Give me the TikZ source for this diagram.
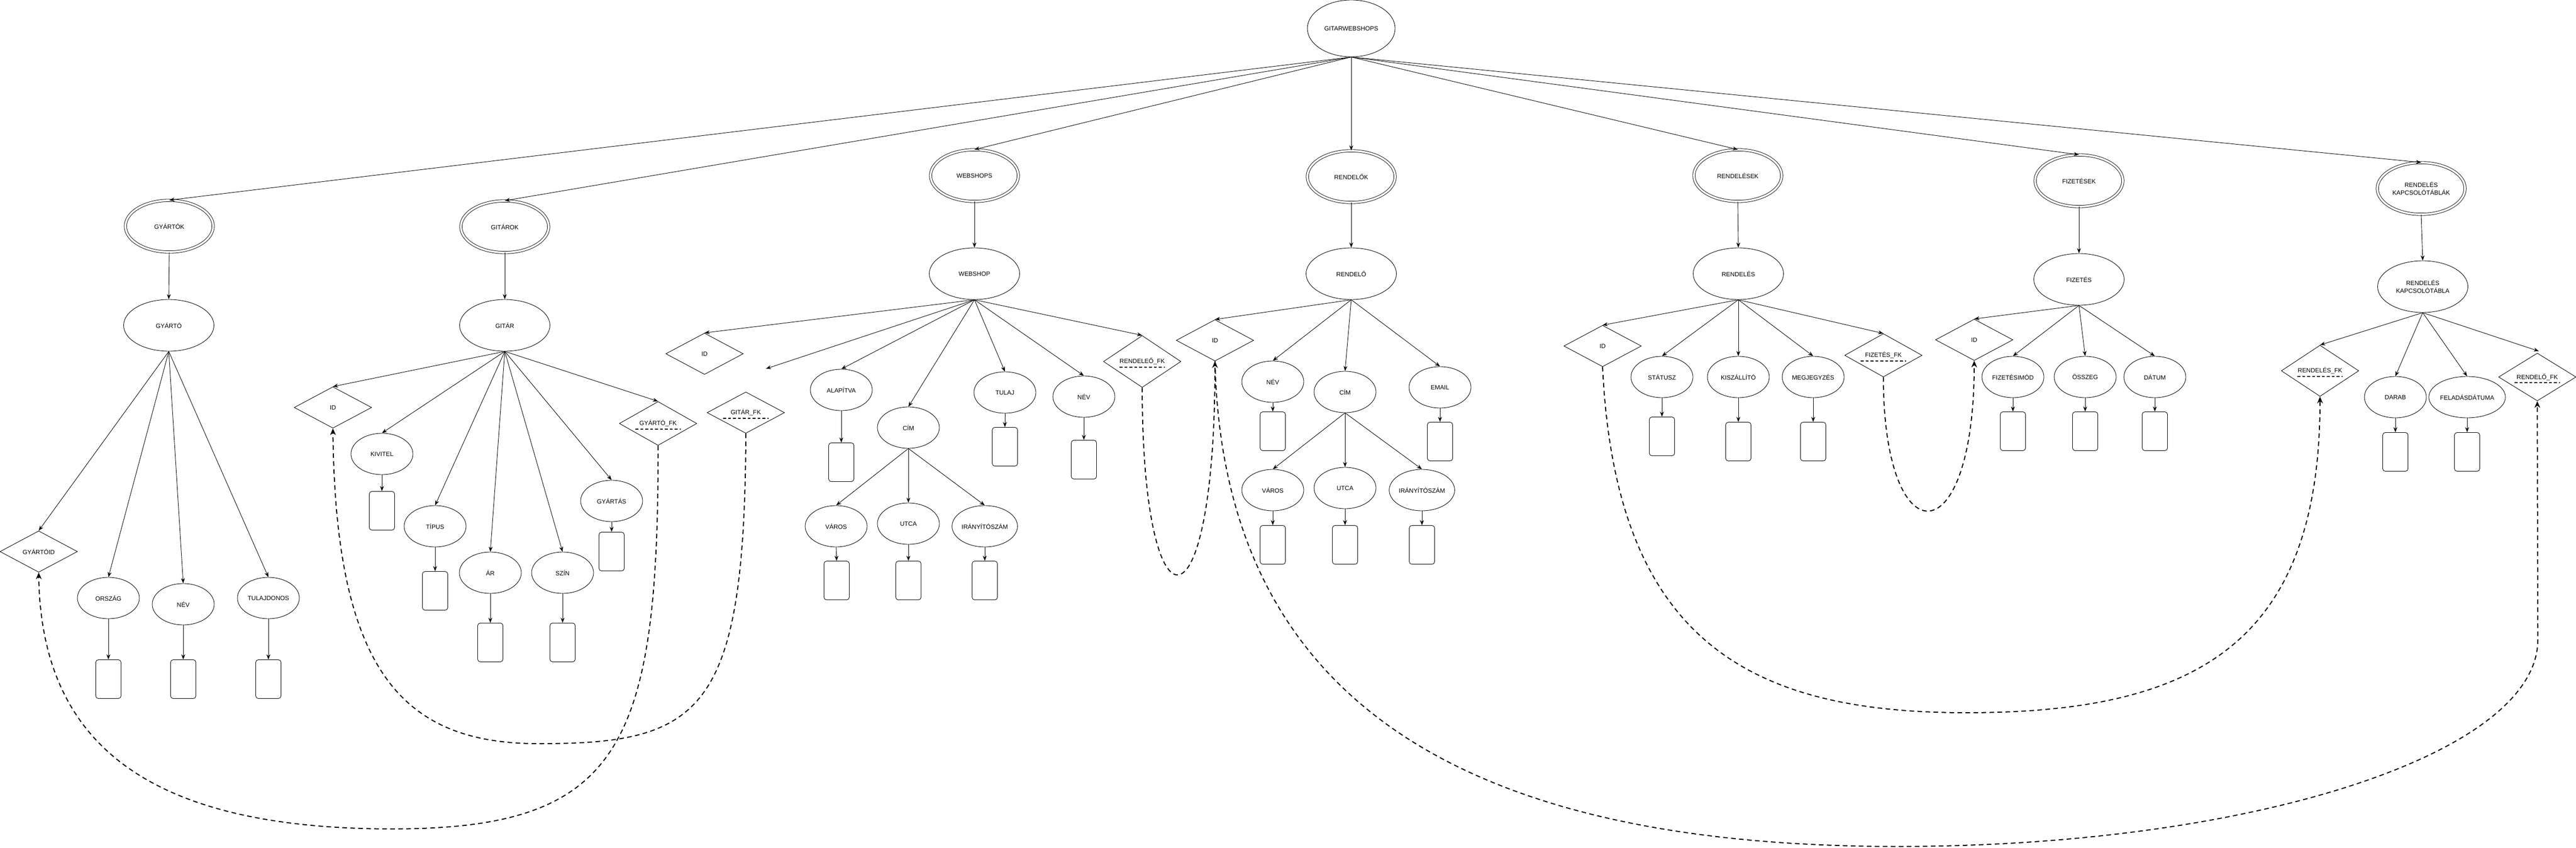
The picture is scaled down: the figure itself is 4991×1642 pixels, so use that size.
\documentclass[tikz,border=0pt]{standalone}
\usepackage{fontspec}
\setmainfont{Liberation Sans}
\usepackage{tikz}
\usetikzlibrary{shapes.geometric,arrows.meta}
\begin{document}
\begin{tikzpicture}[x=0.2mm,y=-0.2mm,line width=0.5pt]
\tikzstyle{every node}+=[inner sep=0pt,font=\fontsize{6.8}{8.2}\selectfont]
\tikzstyle{fo}=[draw,ellipse,minimum width=34mm,minimum height=22mm]
\tikzstyle{tabla}=[draw,ellipse,double,double distance=0.75mm,minimum width=34mm,minimum height=20mm,align=center]
\tikzstyle{egyed}=[draw,ellipse,minimum width=35mm,minimum height=20mm,align=center]
\tikzstyle{attr}=[draw,ellipse,minimum width=24mm,minimum height=16mm]
\tikzstyle{kulcs}=[draw,diamond,minimum width=30mm,minimum height=16mm]
\tikzstyle{idegen}=[kulcs,path picture={\draw[line width=0.4mm,dash pattern=on 1.1mm off 0.8mm] ([xshift=-8.8mm,yshift=-2.2mm]path picture bounding box.center) -- ([xshift=8.8mm,yshift=-2.2mm]path picture bounding box.center);}]
\tikzstyle{ertek}=[draw,rounded corners=1mm,minimum width=9.8mm,minimum height=15mm]
\tikzstyle{nyil}=[-{Stealth[length=2mm,width=1.5mm]}]
\tikzstyle{fkvonal}=[dash pattern=on 1.8mm off 1.3mm,line width=0.4mm,-{Stealth[length=2.6mm,width=2.2mm]}]
\useasboundingbox (0,0) rectangle (4991,1642);
\node[fo] (gws) at (2618,55) {GITARWEBSHOPS};
\node[tabla] (gyartok) at (328,438) {GYÁRTÓK};
\node[tabla] (gitarok) at (978,439) {GITÁROK};
\node[tabla] (webshops) at (1888,340) {WEBSHOPS};
\node[tabla] (rendelok) at (2618,342) {RENDELŐK};
\node[tabla] (rendelesek) at (3367,340) {RENDELÉSEK};
\node[tabla] (fizetesek) at (4028,350) {FIZETÉSEK};
\node[tabla] (kapcsok) at (4691,365) {RENDELÉS\\KAPCSOLÓTÁBLÁK};
\draw[nyil] (gws.south) -- (gyartok.north);
\draw[nyil] (gws.south) -- (gitarok.north);
\draw[nyil] (gws.south) -- (webshops.north);
\draw[nyil] (gws.south) -- (rendelok.north);
\draw[nyil] (gws.south) -- (rendelesek.north);
\draw[nyil] (gws.south) -- (fizetesek.north);
\draw[nyil] (gws.south) -- (kapcsok.north);
\node[egyed] (gyarto) at (327,630) {GYÁRTÓ};
\node[egyed] (gitar) at (978,630) {GITÁR};
\node[egyed] (webshop) at (1888,530) {WEBSHOP};
\node[egyed] (rendelo) at (2618,530) {RENDELŐ};
\node[egyed] (rendeles) at (3368,530) {RENDELÉS};
\node[egyed] (fizetes) at (4028,541) {FIZETÉS};
\node[egyed] (kapcs) at (4694,555) {RENDELÉS\\KAPCSOLÓTÁBLA};
\draw[nyil] (gyartok.south) -- (gyarto.north);
\draw[nyil] (gitarok.south) -- (gitar.north);
\draw[nyil] (webshops.south) -- (webshop.north);
\draw[nyil] (rendelok.south) -- (rendelo.north);
\draw[nyil] (rendelesek.south) -- (rendeles.north);
\draw[nyil] (fizetesek.south) -- (fizetes.north);
\draw[nyil] (kapcsok.south) -- (kapcs.north);
\node[kulcs] (gyid) at (75,1068) {GYÁRTÓID};
\node[attr] (gyorszag) at (210,1158) {ORSZÁG};
\node[ertek] (gyorszagv) at (210,1315) {};
\node[attr] (gynev) at (355,1170) {NÉV};
\node[ertek] (gynevv) at (355,1315) {};
\node[attr] (gytulaj) at (520,1158) {TULAJDONOS};
\node[ertek] (gytulajv) at (520,1315) {};
\draw[nyil] (gyarto.south) -- (gyid.north);
\draw[nyil] (gyarto.south) -- (gyorszag.north);
\draw[nyil] (gyarto.south) -- (gynev.north);
\draw[nyil] (gyarto.south) -- (gytulaj.north);
\draw[nyil] (gyorszag.south) -- (gyorszagv.north);
\draw[nyil] (gynev.south) -- (gynevv.north);
\draw[nyil] (gytulaj.south) -- (gytulajv.north);
\node[kulcs] (gid) at (645,789) {ID};
\node[attr] (gkivitel) at (740,879) {KIVITEL};
\node[ertek] (gkivitelv) at (740,989) {};
\node[attr] (gtipus) at (843,1019) {TÍPUS};
\node[ertek] (gtipusv) at (843,1144) {};
\node[attr] (gar) at (950,1109) {ÁR};
\node[ertek] (garv) at (950,1244) {};
\node[attr] (gszin) at (1090,1109) {SZÍN};
\node[ertek] (gszinv) at (1090,1244) {};
\node[attr] (ggyartas) at (1185,970) {GYÁRTÁS};
\node[ertek] (ggyartasv) at (1185,1068) {};
\node[idegen] (ggyfk) at (1275,820) {GYÁRTÓ\_FK};
\node[idegen] (gfk) at (1445,799) {GITÁR\_FK};
\draw[nyil] (gitar.south) -- (gid.north);
\draw[nyil] (gitar.south) -- (gkivitel.north);
\draw[nyil] (gitar.south) -- (gtipus.north);
\draw[nyil] (gitar.south) -- (gar.north);
\draw[nyil] (gitar.south) -- (gszin.north);
\draw[nyil] (gitar.south) -- (ggyartas.north);
\draw[nyil] (gitar.south) -- (ggyfk.north);
\draw[nyil] (gkivitel.south) -- (gkivitelv.north);
\draw[nyil] (gtipus.south) -- (gtipusv.north);
\draw[nyil] (gar.south) -- (garv.north);
\draw[nyil] (gszin.south) -- (gszinv.north);
\draw[nyil] (ggyartas.south) -- (ggyartasv.north);
\node[kulcs] (wid) at (1365,685) {ID};
\coordinate (wfree) at (1484,714);
\node[attr] (walap) at (1630,755) {ALAPÍTVA};
\node[ertek] (walapv) at (1630,895) {};
\node[attr] (wcim) at (1760,828) {CÍM};
\node[attr] (wvaros) at (1620,1019) {VÁROS};
\node[ertek] (wvarosv) at (1621,1124) {};
\node[attr] (wutca) at (1760,1014) {UTCA};
\node[ertek] (wutcav) at (1760,1124) {};
\node[attr] (wirsz) at (1908,1019) {IRÁNYÍTÓSZÁM};
\node[ertek] (wirszv) at (1908,1124) {};
\node[attr] (wtulaj) at (1947,760) {TULAJ};
\node[ertek] (wtulajv) at (1947,865) {};
\node[attr] (wnev) at (2100,768) {NÉV};
\node[ertek] (wnevv) at (2100,890) {};
\node[idegen] (wrfk) at (2213,700) {RENDELEŐ\_FK};
\draw[nyil] (webshop.south) -- (wid.north);
\draw[nyil] (webshop.south) -- (wfree);
\draw[nyil] (webshop.south) -- (walap.north);
\draw[nyil] (webshop.south) -- (wcim.north);
\draw[nyil] (webshop.south) -- (wtulaj.north);
\draw[nyil] (webshop.south) -- (wnev.north);
\draw[nyil] (webshop.south) -- (wrfk.north);
\draw[nyil] (walap.south) -- (walapv.north);
\draw[nyil] (wcim.south) -- (wvaros.north);
\draw[nyil] (wcim.south) -- (wutca.north);
\draw[nyil] (wcim.south) -- (wirsz.north);
\draw[nyil] (wvaros.south) -- (wvarosv.north);
\draw[nyil] (wutca.south) -- (wutcav.north);
\draw[nyil] (wirsz.south) -- (wirszv.north);
\draw[nyil] (wtulaj.south) -- (wtulajv.north);
\draw[nyil] (wnev.south) -- (wnevv.north);
\node[kulcs] (rid) at (2354,659) {ID};
\node[attr] (rnev) at (2466,739) {NÉV};
\node[ertek] (rnevv) at (2466,835) {};
\node[attr] (rcim) at (2606,759) {CÍM};
\node[attr] (rvaros) at (2466,949) {VÁROS};
\node[ertek] (rvarosv) at (2466,1055) {};
\node[attr] (rutca) at (2606,945) {UTCA};
\node[ertek] (rutcav) at (2606,1055) {};
\node[attr] (rirsz) at (2755,949) {IRÁNYÍTÓSZÁM};
\node[ertek] (rirszv) at (2755,1055) {};
\node[attr] (remail) at (2790,750) {EMAIL};
\node[ertek] (remailv) at (2790,855) {};
\draw[nyil] (rendelo.south) -- (rid.north);
\draw[nyil] (rendelo.south) -- (rnev.north);
\draw[nyil] (rendelo.south) -- (rcim.north);
\draw[nyil] (rendelo.south) -- (remail.north);
\draw[nyil] (rnev.south) -- (rnevv.north);
\draw[nyil] (rcim.south) -- (rvaros.north);
\draw[nyil] (rcim.south) -- (rutca.north);
\draw[nyil] (rcim.south) -- (rirsz.north);
\draw[nyil] (rvaros.south) -- (rvarosv.north);
\draw[nyil] (rutca.south) -- (rutcav.north);
\draw[nyil] (rirsz.south) -- (rirszv.north);
\draw[nyil] (remail.south) -- (remailv.north);
\node[kulcs] (nid) at (3105,670) {ID};
\node[attr] (nstatusz) at (3220,730) {STÁTUSZ};
\node[ertek] (nstatuszv) at (3220,845) {};
\node[attr] (nkiszall) at (3368,730) {KISZÁLLÍTÓ};
\node[ertek] (nkiszallv) at (3368,855) {};
\node[attr] (nmegj) at (3513,730) {MEGJEGYZÉS};
\node[ertek] (nmegjv) at (3513,855) {};
\node[idegen] (nffk) at (3649,688) {FIZETÉS\_FK};
\draw[nyil] (rendeles.south) -- (nid.north);
\draw[nyil] (rendeles.south) -- (nstatusz.north);
\draw[nyil] (rendeles.south) -- (nkiszall.north);
\draw[nyil] (rendeles.south) -- (nmegj.north);
\draw[nyil] (rendeles.south) -- (nffk.north);
\draw[nyil] (nstatusz.south) -- (nstatuszv.north);
\draw[nyil] (nkiszall.south) -- (nkiszallv.north);
\draw[nyil] (nmegj.south) -- (nmegjv.north);
\node[kulcs] (fid) at (3825,658) {ID};
\node[attr] (fmod) at (3900,730) {FIZETÉSIMÓD};
\node[ertek] (fmodv) at (3900,835) {};
\node[attr] (fosszeg) at (4040,730) {ÖSSZEG};
\node[ertek] (fosszegv) at (4040,835) {};
\node[attr] (fdatum) at (4175,730) {DÁTUM};
\node[ertek] (fdatumv) at (4175,835) {};
\draw[nyil] (fizetes.south) -- (fid.north);
\draw[nyil] (fizetes.south) -- (fmod.north);
\draw[nyil] (fizetes.south) -- (fosszeg.north);
\draw[nyil] (fizetes.south) -- (fdatum.north);
\draw[nyil] (fmod.south) -- (fmodv.north);
\draw[nyil] (fosszeg.south) -- (fosszegv.north);
\draw[nyil] (fdatum.south) -- (fdatumv.north);
\node[idegen] (krfk) at (4495,718) {RENDELÉS\_FK};
\node[attr] (kdarab) at (4641,769) {DARAB};
\node[ertek] (kdarabv) at (4641,875) {};
\node[attr] (kfelad) at (4780,769) {FELADÁSDÁTUMA};
\node[ertek] (kfeladv) at (4780,875) {};
\coordinate (kfree) at (4919,680);
\node[idegen] (krofk) at (4916,730) {RENDELŐ\_FK};
\draw[nyil] (kapcs.south) -- (krfk.north);
\draw[nyil] (kapcs.south) -- (kdarab.north);
\draw[nyil] (kapcs.south) -- (kfelad.north);
\draw[nyil] (kapcs.south) -- (kfree);
\draw[nyil] (kdarab.south) -- (kdarabv.north);
\draw[nyil] (kfelad.south) -- (kfeladv.north);
\draw[fkvonal] (ggyfk.south) .. controls (1276,1450) and (1200,1605) .. (760,1605) .. controls (300,1605) and (80,1450) .. (gyid.south);
\draw[fkvonal] (gfk.south) .. controls (1443,1380) and (1360,1440) .. (1044,1440) .. controls (780,1440) and (650,1300) .. (gid.south);
\draw[fkvonal] (wrfk.south) .. controls (2213,1241) and (2354,1241) .. (rid.south);
\draw[fkvonal] (rid.south) .. controls (2370,1400) and (2900,1639) .. (3677,1639) .. controls (4361,1639) and (4917,1460) .. (4917,1239) -- (krofk.south);
\draw[fkvonal] (nid.south) .. controls (3130,1250) and (3400,1380) .. (3810,1380) .. controls (4250,1380) and (4495,1250) .. (krfk.south);
\draw[fkvonal] (nffk.south) .. controls (3649,1080) and (3825,1080) .. (fid.south);
\end{tikzpicture}
\end{document}
